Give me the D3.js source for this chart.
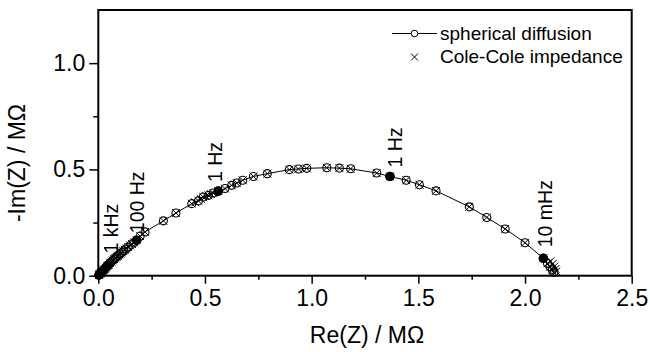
<!DOCTYPE html>
<html><head><meta charset="utf-8">
<script src="https://cdn.jsdelivr.net/npm/d3@7"></script>
<style>
html,body{margin:0;padding:0;background:#fff;}
svg{display:block;font-family:"Liberation Sans",Arial,sans-serif;}
</style></head>
<body><svg id="chart" width="650" height="352"></svg>
<script>
// ---- data ----
const sphericalRe = [0.002,0.003,0.004,0.005,0.006,0.007,0.009,0.010,0.012,0.014,0.016,0.018,0.020,0.023,0.026,0.029,0.032,0.035,0.039,0.043,0.047,0.052,0.057,0.062,0.068,0.074,0.080,0.087,0.094,0.102,0.110,0.120,0.130,0.141,0.153,0.166,0.180,0.196,0.219,0.305,0.364,0.438,0.469,0.492,0.516,0.539,0.5625,0.594,0.625,0.649,0.677,0.727,0.792,0.895,0.938,0.977,1.071,1.130,1.183,1.305,1.367,1.443,1.505,1.583,1.739,1.821,1.907,2.000,2.086,2.105,2.117,2.128,2.135];
const sphericalIm = [0.002,0.003,0.004,0.005,0.006,0.008,0.009,0.011,0.013,0.015,0.017,0.019,0.021,0.024,0.028,0.031,0.034,0.038,0.042,0.046,0.050,0.055,0.061,0.066,0.072,0.077,0.083,0.089,0.095,0.102,0.109,0.117,0.126,0.135,0.145,0.155,0.167,0.186,0.206,0.258,0.295,0.339,0.352,0.370,0.378,0.389,0.398,0.410,0.425,0.436,0.449,0.467,0.480,0.499,0.502,0.505,0.508,0.506,0.503,0.483,0.467,0.449,0.428,0.399,0.324,0.274,0.220,0.155,0.082,0.058,0.042,0.027,0.015];
const coleRe = [0.003,0.006,0.009,0.012,0.016,0.020,0.025,0.030,0.036,0.042,0.048,0.055,0.062,0.068,0.074,0.080,0.086,0.092,0.098,0.104,0.110,0.117,0.124,0.131,0.140,0.149,0.158,0.168,0.180,0.196,0.219,0.305,0.364,0.438,0.455,0.469,0.480,0.492,0.504,0.516,0.528,0.539,0.5625,0.594,0.625,0.649,0.677,0.727,0.792,0.895,0.938,0.977,1.071,1.130,1.183,1.305,1.367,1.443,1.505,1.583,1.739,1.821,1.907,2.000,2.086,2.105,2.117,2.128,2.135,2.120,2.130,2.138,2.143,2.147];
const coleIm = [0.003,0.006,0.010,0.013,0.017,0.021,0.027,0.032,0.038,0.045,0.051,0.059,0.066,0.072,0.078,0.084,0.089,0.094,0.099,0.104,0.110,0.116,0.122,0.128,0.135,0.142,0.149,0.157,0.167,0.186,0.206,0.258,0.295,0.339,0.345,0.352,0.361,0.370,0.374,0.378,0.384,0.389,0.398,0.410,0.425,0.436,0.449,0.467,0.480,0.499,0.502,0.505,0.508,0.506,0.503,0.483,0.467,0.449,0.428,0.399,0.324,0.274,0.220,0.155,0.082,0.058,0.042,0.027,0.015,0.068,0.056,0.044,0.032,0.020];
const markedRe = [0.045,0.180,0.5625,1.367,2.086];
const markedIm = [0.048,0.167,0.398,0.467,0.082];
const markedLabels = ["1 kHz","100 Hz","1 Hz","1 Hz","10 mHz"];
const xTicks = [0.0,0.5,1.0,1.5,2.0,2.5];
const yTicks = [0.0,0.5,1.0];
const legendLabels = ["spherical diffusion","Cole-Cole impedance"];
const xTitle = "Re(Z) / M\u03A9";
const yTitle = "-Im(Z) / M\u03A9";

// ---- layout ----
const L = 98.3, R = 631.7, T = 10, B = 275.7;
const svg = d3.select("#chart");
const x = d3.scaleLinear().domain([0,2.5]).range([L,R]);
const y = d3.scaleLinear().domain([0,1.25]).range([B,T]);
const fmt = d3.format(".1f");

// axes
const xAxis = d3.axisBottom(x).tickValues(xTicks).tickFormat(fmt).tickSizeInner(8).tickSizeOuter(0).tickPadding(6);
const xMinor = d3.axisBottom(x).tickValues(d3.range(0.25,2.5,0.5)).tickFormat("").tickSizeInner(4).tickSizeOuter(0);
const yAxis = d3.axisLeft(y).tickValues(yTicks).tickFormat(fmt).tickSizeInner(9).tickSizeOuter(0).tickPadding(4);
const yMinor = d3.axisLeft(y).tickValues([0.25,0.75]).tickFormat("").tickSizeInner(5).tickSizeOuter(0);

function style(g, fs){
  g.select(".domain").remove();
  g.selectAll("line").attr("stroke","#000").attr("stroke-width",1.5);
  g.selectAll("text").attr("fill","#000").attr("font-size",fs).attr("font-family","Liberation Sans, Arial, sans-serif");
}
svg.append("g").attr("transform",`translate(0,${B})`).call(xAxis).call(g=>style(g,23));
svg.append("g").attr("transform",`translate(0,${B})`).call(xMinor).call(g=>style(g,23));
svg.append("g").attr("transform",`translate(${L},0)`).call(yAxis).call(g=>style(g,23));
svg.append("g").attr("transform",`translate(${L},0)`).call(yMinor).call(g=>style(g,23));

// frame
svg.append("rect").attr("x",L).attr("y",T).attr("width",R-L).attr("height",B-T)
  .attr("fill","none").attr("stroke","#000").attr("stroke-width",2);

// titles
svg.append("text").attr("x",(L+R)/2+2).attr("y",343).attr("text-anchor","middle")
  .attr("font-size",23).text(xTitle);
svg.append("text").attr("transform",`translate(25,163) rotate(-90)`).attr("text-anchor","middle")
  .attr("font-size",23).text(yTitle);

// series
const sph = sphericalRe.map((v,i)=>[v,sphericalIm[i]]);
const cole = coleRe.map((v,i)=>[v,coleIm[i]]);
const plot = svg.append("g");
plot.append("path").datum(sph).attr("fill","none").attr("stroke","#000").attr("stroke-width",1)
  .attr("d", d3.line().x(d=>x(d[0])).y(d=>y(d[1])));
plot.selectAll("circle.sph").data(sph).join("circle").attr("class","sph")
  .attr("cx",d=>x(d[0])).attr("cy",d=>y(d[1])).attr("r",4)
  .attr("fill","none").attr("stroke","#000").attr("stroke-width",1.1);
const cs = 3.9;
plot.selectAll("path.cole").data(cole).join("path").attr("class","cole")
  .attr("d",d=>{const cx=x(d[0]),cy=y(d[1]);return `M${cx-cs},${cy-cs}L${cx+cs},${cy+cs}M${cx-cs},${cy+cs}L${cx+cs},${cy-cs}`;})
  .attr("stroke","#000").attr("stroke-width",1).attr("fill","none");

// marked frequencies
const marked = markedRe.map((v,i)=>({x:v,y:markedIm[i],label:markedLabels[i]}));
plot.selectAll("circle.mk").data(marked).join("circle").attr("class","mk")
  .attr("cx",d=>x(d.x)).attr("cy",d=>y(d.y)).attr("r",4.8).attr("fill","#000");
const labelOffset = [[10,-12],[7,-7],[4,-9],[12,-9],[9,-11]];
plot.selectAll("text.mk").data(marked).join("text").attr("class","mk")
  .attr("transform",(d,i)=>`translate(${x(d.x)+labelOffset[i][0]},${y(d.y)+labelOffset[i][1]}) rotate(-90)`)
  .attr("font-size",19.5).attr("fill","#000").text(d=>d.label);

// legend
const lg = svg.append("g");
lg.append("line").attr("x1",392).attr("x2",437).attr("y1",33.5).attr("y2",33.5).attr("stroke","#000").attr("stroke-width",1);
lg.append("circle").attr("cx",414.5).attr("cy",33.5).attr("r",3.3).attr("fill","#fff").attr("stroke","#000").attr("stroke-width",1);
lg.append("path").attr("d",`M${411},${53.5}L${418},${60.5}M${411},${60.5}L${418},${53.5}`).attr("stroke","#000").attr("stroke-width",1);
lg.selectAll("text").data(legendLabels).join("text")
  .attr("x",440).attr("y",(d,i)=>40+i*23).attr("font-size",19).attr("fill","#000").text(d=>d);
</script></body></html>
